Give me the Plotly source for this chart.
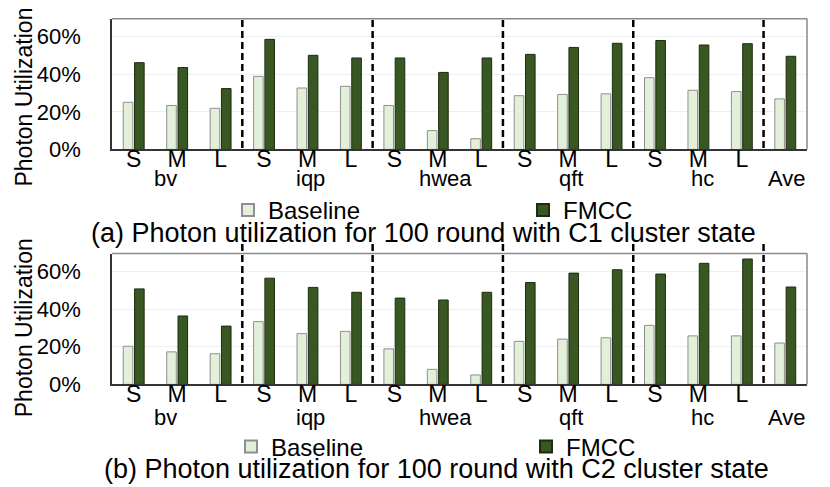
import plotly.graph_objects as go

# ---------------- data ----------------
sizes = ["S", "M", "L"]
benchmarks = ["bv", "iqp", "hwea", "qft", "hc"]
tick_labels = [s for b in benchmarks for s in sizes] + [""]
group_labels = benchmarks + ["Ave"]
y_ticks = [0, 20, 40, 60]
y_tick_labels = ["0%", "20%", "40%", "60%"]

baseline_c1 = [25.1, 23.4, 21.9, 38.9, 32.7, 33.6, 23.4, 10.0, 5.7, 28.6, 29.3, 29.6, 38.2, 31.5, 30.8, 26.9]
fmcc_c1 = [46.2, 43.6, 32.4, 58.6, 50.1, 48.7, 48.7, 41.0, 48.7, 50.6, 54.3, 56.5, 58.0, 55.6, 56.3, 49.6]

baseline_c2 = [20.3, 17.3, 16.3, 33.4, 27.0, 28.2, 18.9, 8.0, 5.0, 22.9, 24.1, 24.8, 31.4, 25.8, 25.8, 22.0]
fmcc_c2 = [50.8, 36.4, 31.0, 56.5, 51.6, 49.0, 45.9, 44.9, 49.0, 54.2, 59.2, 61.0, 58.7, 64.4, 66.7, 51.8]

captions = ["(a) Photon utilization for 100 round with C1 cluster state",
            "(b) Photon utilization for 100 round with C2 cluster state"]

# ---------------- styling ----------------
FONT = "Liberation Sans, Arial, Helvetica, sans-serif"
W, H = 830, 487
BASE_FILL, BASE_EDGE = "#e2efd9", "#8f8f8f"
FMCC_FILL, FMCC_EDGE = "#385723", "#1c2c12"

pos = list(range(len(tick_labels)))
group_pos = [1, 4, 7, 10, 13, 15]
group_shift = [-12, 3, 8, 3, 4, 2]


def py(pix):
    return 1 - pix / H


fig = go.Figure()
panels = [
    dict(b=baseline_c1, f=fmcc_c1, xa="x", ya="y", lg="legend"),
    dict(b=baseline_c2, f=fmcc_c2, xa="x2", ya="y2", lg="legend2"),
]
for p in panels:
    fig.add_trace(go.Bar(x=pos, y=p["b"], name="Baseline", xaxis=p["xa"], yaxis=p["ya"], legend=p["lg"],
                         marker=dict(color=BASE_FILL, line=dict(color=BASE_EDGE, width=1))))
    fig.add_trace(go.Bar(x=pos, y=p["f"], name="FMCC", xaxis=p["xa"], yaxis=p["ya"], legend=p["lg"],
                         marker=dict(color=FMCC_FILL, line=dict(color=FMCC_EDGE, width=1))))

xdom = [104 / W, 799 / W]
ydoms = [[py(145.3), py(11)], [py(386.7), py(252.3)]]

xaxis_common = dict(domain=xdom, range=[-0.5, 15.5], tickmode="array", tickvals=pos, ticktext=tick_labels,
                    showline=True, linecolor="#333333", linewidth=1.5, showgrid=False, zeroline=False,
                    ticks="", ticklabelstandoff=-12,
                    tickfont=dict(family=FONT, size=23, color="black"))
yaxis_common = dict(range=[0, 69.6], tickmode="array", tickvals=y_ticks, ticktext=y_tick_labels,
                    showline=True, linecolor="#333333", linewidth=1.5, showgrid=True, gridcolor="#efefef",
                    gridwidth=1, zeroline=False, ticks="outside", ticklen=25, tickcolor="rgba(0,0,0,0)",
                    tickfont=dict(family=FONT, size=22, color="black"))

legend_common = dict(orientation="h", xanchor="left", yanchor="middle",
                     entrywidth=250, entrywidthmode="pixels", font=dict(family=FONT, size=24, color="black"),
                     bgcolor="rgba(0,0,0,0)", tracegroupgap=0, itemsizing="constant")

fig.update_layout(
    width=W, height=H, margin=dict(l=0, r=0, t=0, b=0),
    paper_bgcolor="white", plot_bgcolor="white",
    barmode="group", bargap=0.48, bargroupgap=0.15,
    xaxis=dict(**xaxis_common, anchor="y"),
    yaxis=dict(**yaxis_common, domain=ydoms[0], anchor="x"),
    xaxis2=dict(**xaxis_common, anchor="y2"),
    yaxis2=dict(**yaxis_common, domain=ydoms[1], anchor="x2"),
    font=dict(family=FONT, color="black"),
    legend=dict(**legend_common, x=220 / W, y=py(208)),
    legend2=dict(**legend_common, x=223 / W, y=py(451)),
)

shapes = []
annotations = []
for i, (xa, ya) in enumerate([("x", "y"), ("x2", "y2")]):
    # grey top/right frame
    shapes.append(dict(type="line", xref=f"{xa} domain", yref=f"{ya} domain", x0=0, x1=1, y0=1, y1=1,
                       line=dict(color="#8a8a8a", width=1.5)))
    shapes.append(dict(type="line", xref=f"{xa} domain", yref=f"{ya} domain", x0=1, x1=1, y0=0, y1=1,
                       line=dict(color="#8a8a8a", width=1.5)))
    top = 1.0 if i == 0 else 1.09
    for xs in [2.5, 5.5, 8.5, 11.5, 14.5]:
        shapes.append(dict(type="line", xref=xa, yref=f"{ya} domain", x0=xs, x1=xs, y0=0.01, y1=top,
                           line=dict(color="black", width=2.5, dash="7px,4px")))
    gy = 175 if i == 0 else 421
    for gp, gl, sh in zip(group_pos, group_labels, group_shift):
        annotations.append(dict(x=gp, xref=xa, y=py(gy), yref="paper", text=gl, showarrow=False,
                                xshift=sh, yanchor="middle", font=dict(family=FONT, size=22, color="black")))
    # y-axis title
    annotations.append(dict(x=16 / W, xref="paper", y=py(92 if i == 0 else 329), yref="paper",
                            text="Photon Utilization", textangle=-90, showarrow=False,
                            xanchor="center", yanchor="middle", font=dict(family=FONT, size=23, color="black")))
    # caption
    annotations.append(dict(x=(415.5 if i == 0 else 428) / W, xref="paper", y=py(231 if i == 0 else 474),
                            yref="paper", text=captions[i], showarrow=False, xanchor="center",
                            yanchor="middle", font=dict(family=FONT, size=27, color="black")))

fig.update_layout(shapes=shapes, annotations=annotations)
fig.write_html("out.html")
